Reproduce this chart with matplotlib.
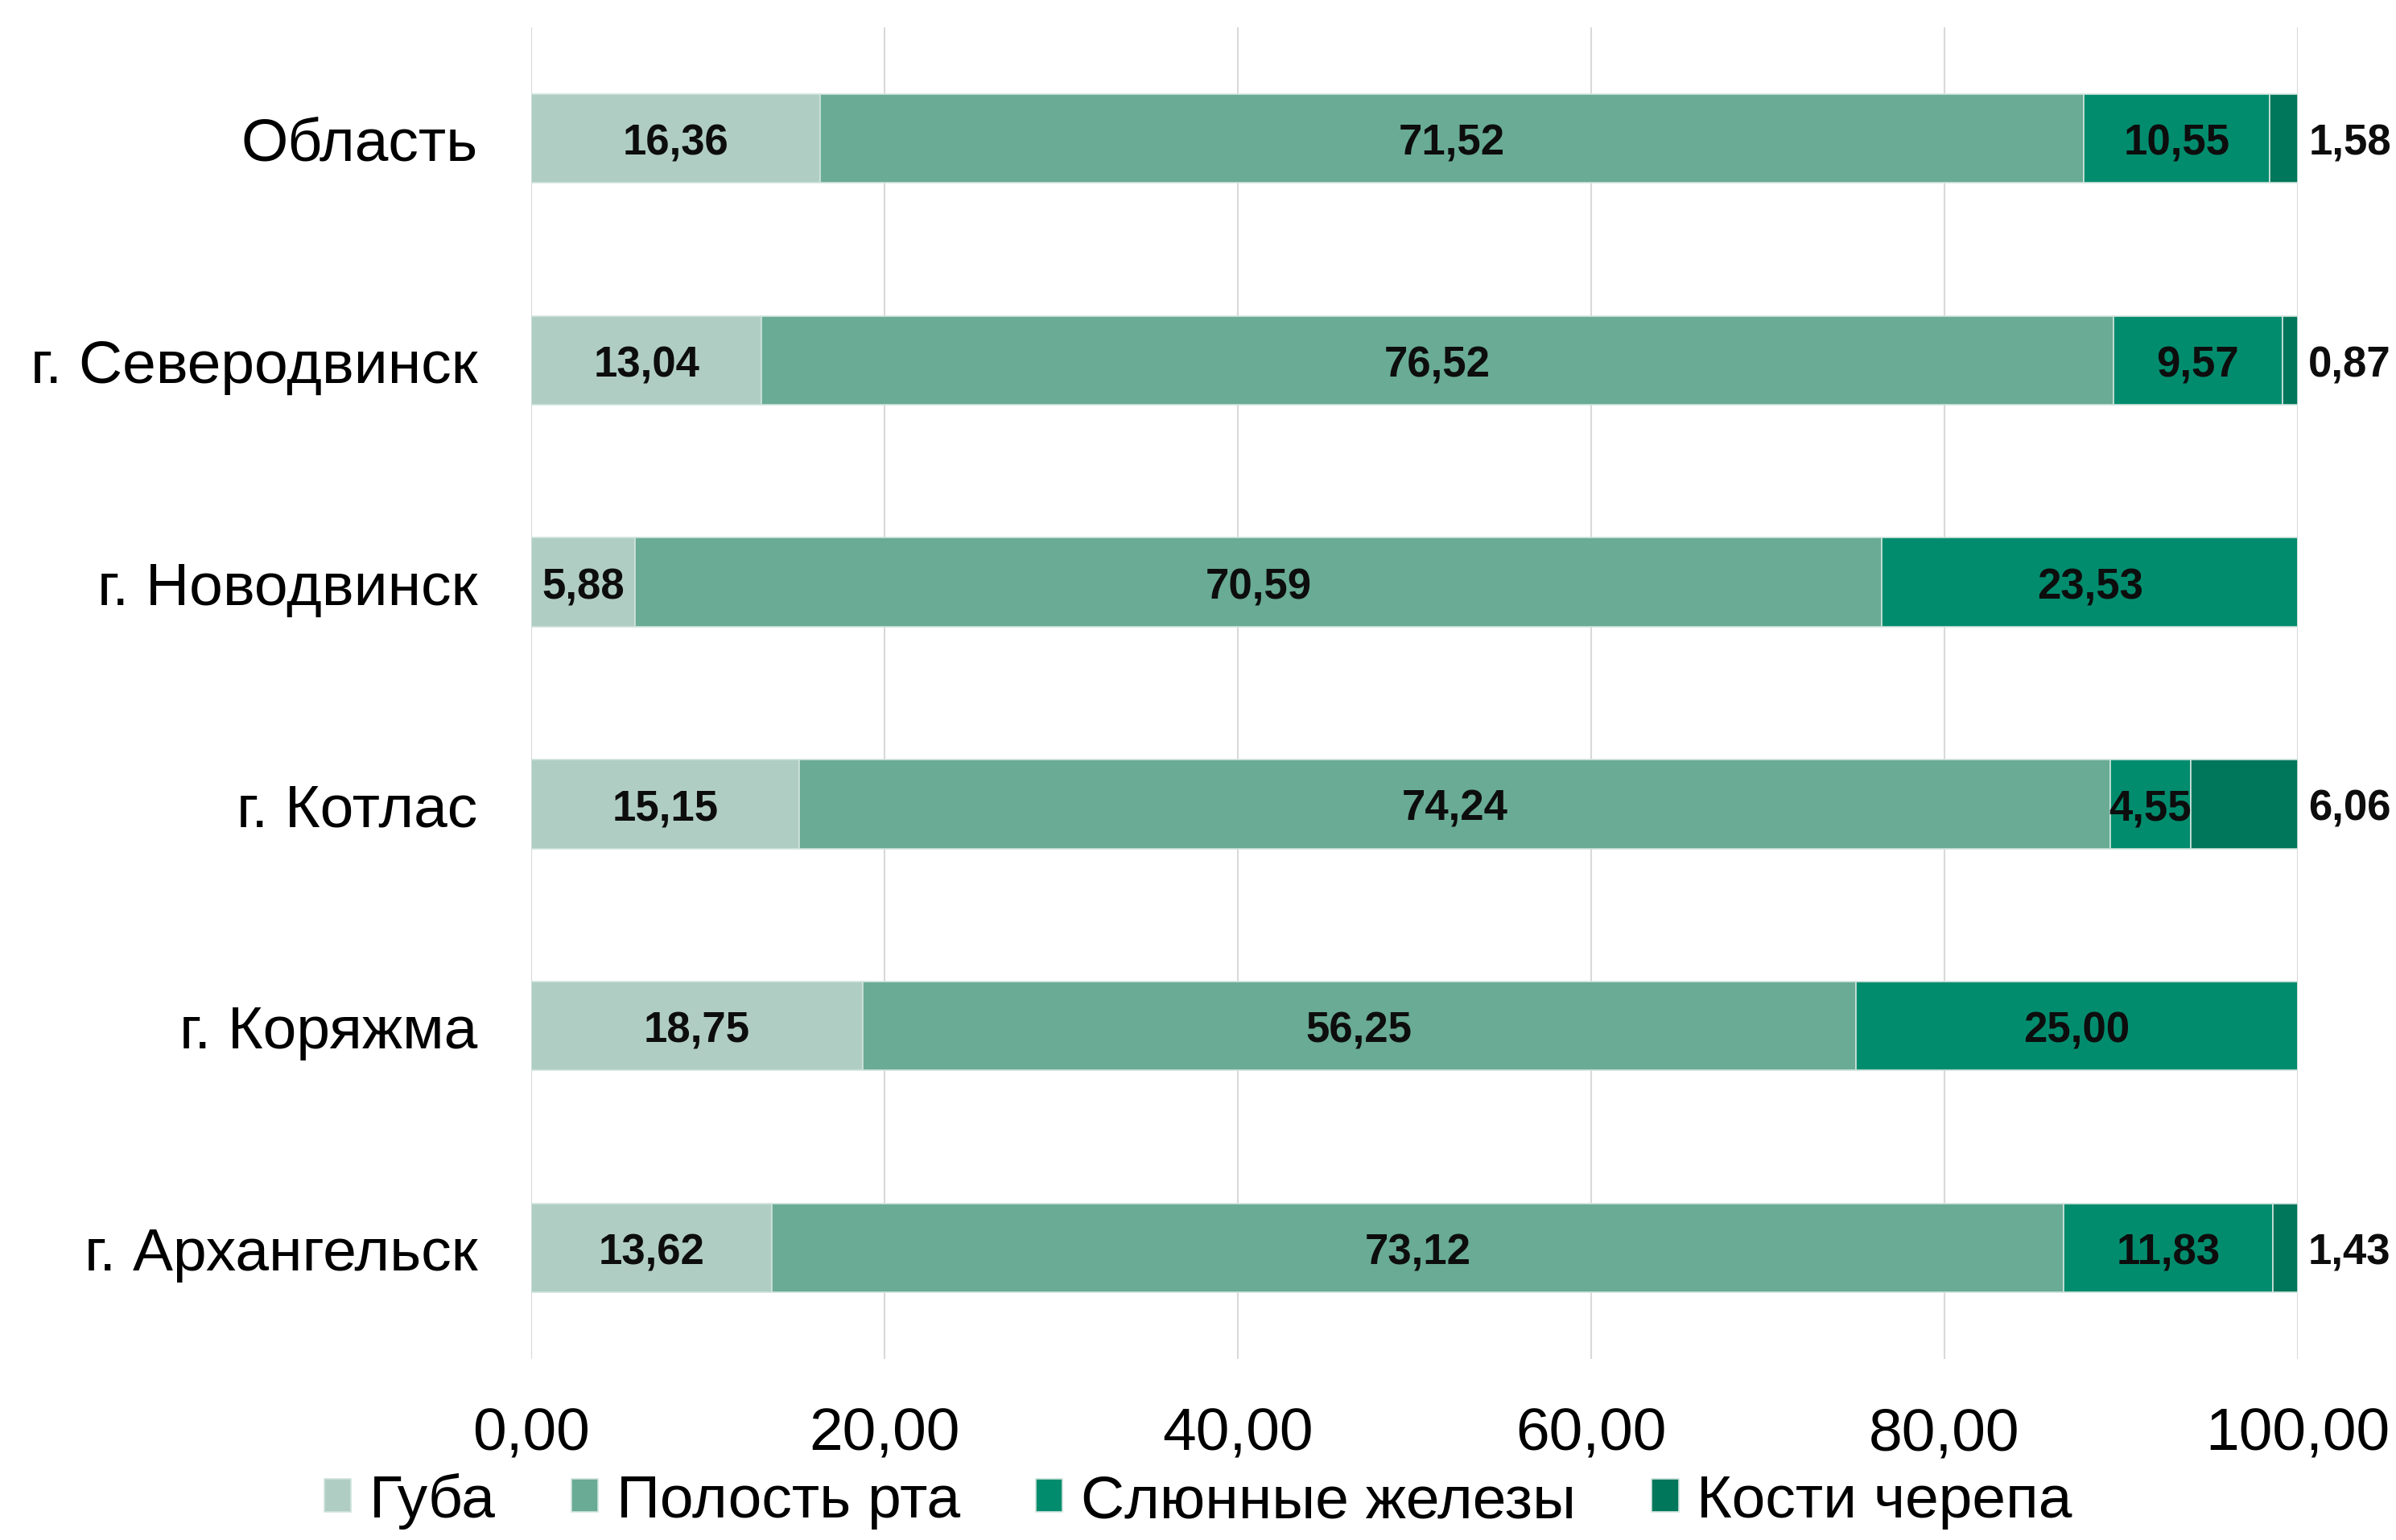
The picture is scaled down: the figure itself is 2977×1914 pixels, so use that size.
import numpy as np
import matplotlib.pyplot as plt

plt.rcParams['font.family'] = ['Liberation Sans', 'DejaVu Sans']

# Data (top to bottom as in the chart)
regions = ['Область', 'г. Северодвинск', 'г. Новодвинск', 'г. Котлас', 'г. Коряжма', 'г. Архангельск']
series_names = ['Губа', 'Полость рта', 'Слюнные железы', 'Кости черепа']
guba = [16.36, 13.04, 5.88, 15.15, 18.75, 13.62]
polost = [71.52, 76.52, 70.59, 74.24, 56.25, 73.12]
slyun = [10.55, 9.57, 23.53, 4.55, 25.00, 11.83]
kosti = [1.58, 0.87, 0.0, 6.06, 0.0, 1.43]
colors = ['#b0cdc4', '#69ab94', '#028c6e', '#00765b']

def fmt(v):
    return f'{v:.2f}'.replace('.', ',')

fig = plt.figure(figsize=(29.77, 19.15), dpi=100)
ax = fig.add_axes([0.2217, 0.1175, 0.7373, 0.8642])

y = np.arange(len(regions))
left = np.zeros(len(regions))
all_series = [guba, polost, slyun, kosti]
for k, vals in enumerate(all_series):
    vals = np.array(vals)
    ax.barh(y, vals, left=left, height=0.4, color=colors[k],
            edgecolor='#cfe3dc', linewidth=1.2, label=series_names[k], zorder=3)
    for i, v in enumerate(vals):
        if v <= 0:
            continue
        if k == 3:
            # small last segment -> label outside the bar
            ax.text(left[i] + v + 0.6, y[i], fmt(v), ha='left', va='center_baseline',
                    fontsize=38, fontweight='bold', color='#0d0d0d', clip_on=False)
        else:
            ax.text(left[i] + v / 2, y[i], fmt(v), ha='center', va='center_baseline',
                    fontsize=38, fontweight='bold', color='#0d0d0d', zorder=4)
    left = left + vals

ax.set_xlim(0, 100)
ax.set_ylim(len(regions) - 0.5, -0.5)
ax.set_yticks(y)
ax.set_yticklabels(regions, fontsize=54)
ax.set_xticks(np.arange(0, 101, 20))
ax.set_xticklabels([fmt(v) for v in np.arange(0, 101, 20)], fontsize=54)
ax.tick_params(axis='y', length=0, pad=48)
ax.tick_params(axis='x', length=0, pad=42)
ax.grid(axis='x', color='#d9d9d9', linewidth=1.5, zorder=0)
for s in ax.spines.values():
    s.set_visible(False)

fig.legend(loc='lower center', bbox_to_anchor=(0.5, -0.028), ncol=4, frameon=False,
           fontsize=54, handlelength=0.45, handleheight=0.45, handletextpad=0.3,
           columnspacing=1.25)

fig.savefig('out.png', dpi=100)
